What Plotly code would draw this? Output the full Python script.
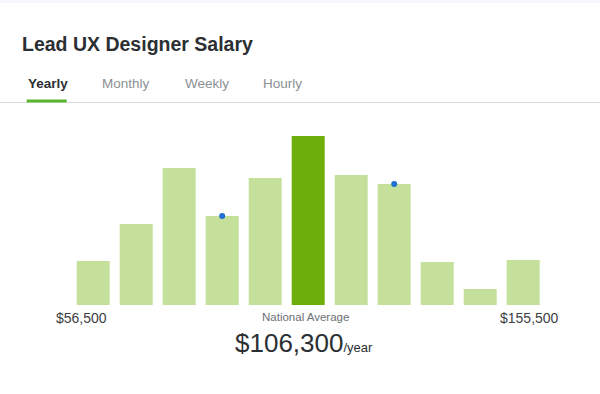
import plotly.graph_objects as go

# ---- data ----
bins = list(range(11))
counts = [44, 81, 137, 89, 127, 169, 130, 121, 43, 16, 45]
highlight_bin = 5
marker_bins = [3, 7]
title = "Lead UX Designer Salary"
tabs = ["Yearly", "Monthly", "Weekly", "Hourly"]
low_label = "$56,500"
high_label = "$155,500"
avg_label = "National Average"
avg_value = "$106,300"
avg_unit = "/year"

W, H = 600, 394
LIGHT = "#c4e09a"
DARK = "#6eae0b"

def px(x):
    return x / W

def py(y):
    return 1 - y / H

colors = [DARK if b == highlight_bin else LIGHT for b in bins]

fig = go.Figure()
fig.add_trace(go.Bar(x=bins, y=counts, marker=dict(color=colors, line=dict(width=0)),
                     hoverinfo="skip"))
fig.add_trace(go.Scatter(x=marker_bins, y=[counts[b] for b in marker_bins], mode="markers",
                         marker=dict(color="#1f6fd1", size=6), hoverinfo="skip"))

fig.update_layout(
    width=W, height=H,
    margin=dict(l=0, r=0, t=0, b=0),
    paper_bgcolor="white", plot_bgcolor="white",
    showlegend=False,
    bargap=10 / 43,
    xaxis=dict(domain=[px(71.7), px(544.7)], range=[-0.5, 10.5], visible=False, fixedrange=True),
    yaxis=dict(domain=[py(305), py(136)], range=[0, max(counts)], visible=False, fixedrange=True),
    font=dict(family="Liberation Sans, Arial, sans-serif"),
)

shapes = [
    dict(type="rect", xref="paper", yref="paper", x0=0, x1=1, y0=py(3), y1=1,
         fillcolor="#f7f7fb", line=dict(width=0), layer="below"),
    dict(type="line", xref="paper", yref="paper", x0=0, x1=1, y0=py(102.5), y1=py(102.5),
         line=dict(color="#d8d8d8", width=1)),
    dict(type="rect", xref="paper", yref="paper", x0=px(26.7), x1=px(66.7), y0=py(102.5), y1=py(99.5),
         fillcolor="#5cb531", line=dict(width=0)),
]
fig.update_layout(shapes=shapes)

ann = []
ann.append(dict(text="<b>" + title + "</b>", x=px(20), y=py(44), xanchor="left", yanchor="middle",
                font=dict(size=19.5, color="#2b2f33")))
tab_x = [26.7, 101, 184.3, 262.3]
for i, (t, x) in enumerate(zip(tabs, tab_x)):
    txt = "<b>" + t + "</b>" if i == 0 else t
    ann.append(dict(text=txt, x=px(x - 1), y=py(83.5), xanchor="left", yanchor="middle",
                    font=dict(size=13.5, color="#2b2f33" if i == 0 else "#8c9095")))
ann.append(dict(text=low_label, x=px(54), y=py(317.5), xanchor="left", yanchor="middle",
                font=dict(size=14, color="#3c4043")))
ann.append(dict(text=high_label, x=px(561), y=py(317.5), xanchor="right", yanchor="middle",
                font=dict(size=14, color="#3c4043")))
ann.append(dict(text=avg_label, x=px(305.5), y=py(316.5), xanchor="center", yanchor="middle",
                font=dict(size=11.5, color="#6b6f73")))
ann.append(dict(text=avg_value + "<span style='font-size:13px'>" + avg_unit + "</span>",
                x=px(233), y=py(342.5), xanchor="left", yanchor="middle",
                font=dict(size=26, color="#2b2f33")))
for a in ann:
    a.update(xref="paper", yref="paper", showarrow=False)
fig.update_layout(annotations=ann)

fig.write_html("out.html", config={"displayModeBar": False, "staticPlot": True},
               post_script="document.body.style.margin='0';document.body.style.overflow='hidden';")
